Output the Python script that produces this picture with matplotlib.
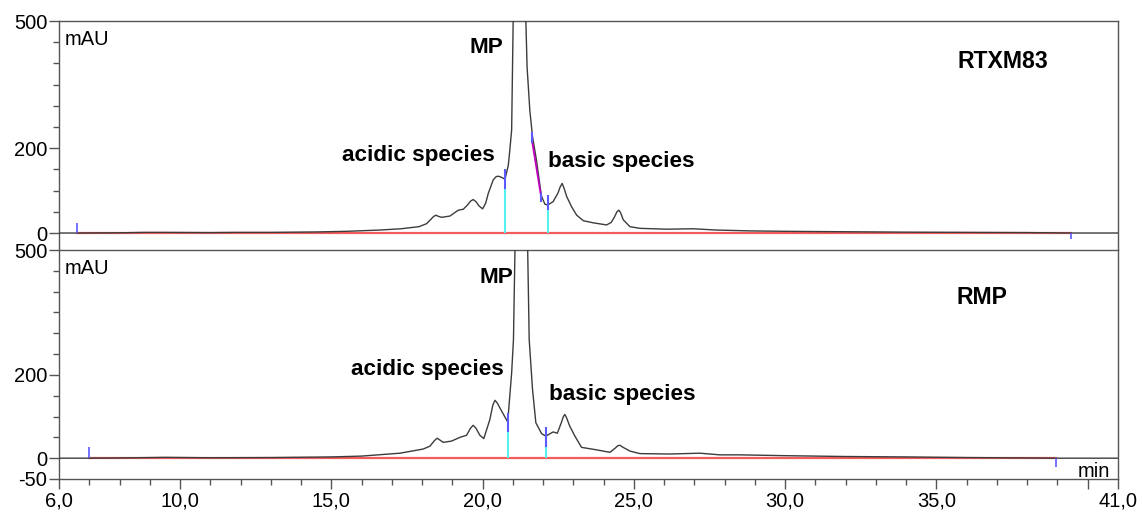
import matplotlib.pyplot as plt
import numpy as np

plt.rcParams['font.family'] = ['Liberation Sans', 'DejaVu Sans']
plt.rcParams['axes.unicode_minus'] = False

# retention time (min) and absorbance (mAU)
t_top = [6.0, 6.6, 8.0, 8.8, 9.5, 11.0, 11.8, 13.0, 14.5, 15.5, 16.6, 17.3, 17.9,
         18.15, 18.3, 18.38, 18.46, 18.55, 18.65, 18.92, 19.2, 19.36, 19.5, 19.6,
         19.69, 19.78, 19.88, 20.0, 20.1, 20.19, 20.35, 20.43, 20.5, 20.57, 20.63,
         20.74, 20.85, 20.9, 20.96, 21.01, 21.06, 21.12, 21.2, 21.28, 21.36, 21.43,
         21.47, 21.56, 21.65, 21.78, 21.9, 21.95, 22.06, 22.15, 22.33, 22.49, 22.56,
         22.63, 22.7, 22.78, 22.94, 23.11, 23.33, 23.66, 24.1, 24.25, 24.36, 24.44,
         24.5, 24.56, 24.65, 24.87, 25.2, 26.08, 26.96, 27.73, 28.84, 30.0, 32.0,
         34.0, 36.0, 38.0, 39.45, 41.0]
a_top = [0, 0, 0.5, 1.5, 1.5, 1, 1.5, 1.5, 2.5, 4, 7, 10, 15,
         22, 33, 39, 42, 39, 37, 40, 54, 56, 66, 75,
         79, 74, 64, 57, 70, 94, 125, 132, 134, 133, 131,
         127, 160, 196, 243, 500, 850, 1250, 1400, 1300, 900, 500,
         392, 290, 227, 172, 109, 86, 68, 66, 74, 94, 108,
         117, 104, 86, 62, 42, 29, 24, 19, 25, 38, 50,
         54, 48, 31, 15, 11, 9, 10, 7, 5, 4, 3,
         2, 1.5, 1, 0, 0]

t_bot = [6.0, 7.0, 8.0, 9.5, 11.0, 13.0, 15.0, 16.0, 17.27, 18.04, 18.26, 18.42,
         18.5, 18.58, 18.7, 18.97, 19.25, 19.47, 19.6, 19.69, 19.78, 19.91, 20.04,
         20.24, 20.34, 20.41, 20.48, 20.63, 20.83, 20.96, 21.02, 21.07, 21.14, 21.22,
         21.3, 21.38, 21.44, 21.49, 21.54, 21.65, 21.76, 21.95, 22.09, 22.33, 22.47,
         22.6, 22.67, 22.72, 22.78, 22.88, 23.05, 23.27, 23.77, 24.21, 24.38, 24.47,
         24.54, 24.62, 24.87, 25.2, 26.19, 27.18, 27.84, 28.5, 30.0, 32.0, 34.0,
         36.0, 38.0, 38.95, 41.0]
a_bot = [0, 0, 0.5, 2, 1, 1.5, 3, 5, 12, 22, 29, 43,
         48, 44, 38, 41, 50, 55, 72, 79, 72, 55, 47,
         93, 128, 139, 133, 113, 87, 205, 285, 500, 900, 1300,
         1350, 1000, 700, 500, 285, 165, 85, 59, 53, 63, 60,
         85, 100, 105, 96, 77, 53, 26, 20, 14, 24, 30,
         31, 27, 17, 11, 10, 12, 8, 8, 6, 4, 3,
         1.5, 0.5, 0, 0]

# integration events: baseline start/end and peak-split drop lines
top_base = [6.6, 39.45]
bot_base = [7.0, 38.95]
top_split = [20.74, 22.15]
top_split_lo = [103, 55]
top_split_hi = [151, 90]
bot_split = [20.83, 22.09]
bot_split_lo = [62, 27]
bot_split_hi = [109, 74]
top_tangent_t = [21.64, 21.92]
top_tangent_a = [215, 92]

x_major = [6, 10, 15, 20, 25, 30, 35, 40, 41]
x_labels = ['6,0', '10,0', '15,0', '20,0', '25,0', '30,0', '35,0', '', '41,0']

fig = plt.figure(figsize=(11.42, 5.12), dpi=100)
left, width = 59 / 1142, (1118 - 59) / 1142
ax1 = fig.add_axes([left, 1 - 249 / 512, width, 228 / 512])
ax2 = fig.add_axes([left, 1 - 479 / 512, width, 229 / 512])

spine_c = '#555555'
trace_c = '#3c3c3c'
base_c = '#f25c5c'
cyan = '#55f0f0'
blue = '#5a5aff'
fs = 14.5
bfs = 16.2

for ax, ymin in [(ax1, -37.7), (ax2, -50)]:
    ax.set_xlim(6, 41)
    ax.set_ylim(ymin, 500)
    for s in ax.spines.values():
        s.set_color(spine_c)
        s.set_linewidth(1.0)
    ax.tick_params(axis='both', which='both', colors=spine_c, labelcolor='black',
                   labelsize=fs, direction='out', width=1.0)
    ax.tick_params(axis='y', which='major', length=7, pad=1.5)
    ax.tick_params(axis='y', which='minor', length=4)
    ax.set_yticks(np.arange(-50 if ymin == -50 else 0, 501, 50), minor=True)

ax1.spines['bottom'].set_visible(False)
ax1.set_yticks([0, 200, 500])
ax1.set_xticks([])
ax1.set_xticks([], minor=True)

ax2.set_yticks([-50, 0, 200, 500])
ax2.set_xticks(x_major)
ax2.set_xticklabels(x_labels)
ax2.set_xticks(np.arange(6, 42, 1), minor=True)
ax2.tick_params(axis='x', which='major', length=7.5, pad=1.5)
ax2.tick_params(axis='x', which='minor', length=4)

# baselines
ax1.plot(top_base, [0, 0], color=base_c, lw=1.6, zorder=2)
ax2.plot(bot_base, [0, 0], color=base_c, lw=1.6, zorder=2)

# traces
ax1.plot(t_top, a_top, color=trace_c, lw=1.0, zorder=3)
ax2.plot(t_bot, a_bot, color=trace_c, lw=1.0, zorder=3)

# start / end event marks
ax1.vlines(top_base[0], 0, 24, color=blue, lw=1.2, zorder=4)
ax1.vlines(top_base[1], -14, 0, color=blue, lw=1.2, zorder=4)
ax2.vlines(bot_base[0], 0, 26, color=blue, lw=1.2, zorder=4)
ax2.vlines(bot_base[1], -22, 0, color=blue, lw=1.2, zorder=4)

# drop lines
ax1.vlines(top_split, 0, top_split_lo, color=cyan, lw=1.5, zorder=4)
ax1.vlines(top_split, top_split_lo, top_split_hi, color=blue, lw=1.5, zorder=4)
ax2.vlines(bot_split, 0, bot_split_lo, color=cyan, lw=1.5, zorder=4)
ax2.vlines(bot_split, bot_split_lo, bot_split_hi, color=blue, lw=1.5, zorder=4)

# tangent skim on the MP tail
ax1.plot(top_tangent_t, top_tangent_a, color='#c000c0', lw=1.3, zorder=4)
ax1.plot([top_tangent_t[0]] * 2, [top_tangent_a[0], top_tangent_a[0] + 22],
         color=blue, lw=1.5, zorder=4)
ax1.plot([top_tangent_t[1]] * 2, [top_tangent_a[1], top_tangent_a[1] - 16],
         color=blue, lw=1.5, zorder=4)

# annotations
ax1.text(6.2, 443, 'mAU', fontsize=fs, va='baseline', ha='left')
ax2.text(6.2, 442, 'mAU', fontsize=fs, va='baseline', ha='left')
ax2.text(40.75, -44, 'min', fontsize=fs, va='baseline', ha='right')

ax1.text(20.13, 424, 'MP', fontsize=bfs, fontweight='bold', ha='center', va='baseline')
ax1.text(17.87, 170, 'acidic species', fontsize=bfs, fontweight='bold', ha='center', va='baseline')
ax1.text(24.57, 156, 'basic species', fontsize=bfs, fontweight='bold', ha='center', va='baseline')
ax1.text(37.2, 388, 'RTXM83', fontsize=16.6, fontweight='bold', ha='center', va='baseline')

ax2.text(20.44, 421, 'MP', fontsize=bfs, fontweight='bold', ha='center', va='baseline')
ax2.text(18.18, 200, 'acidic species', fontsize=bfs, fontweight='bold', ha='center', va='baseline')
ax2.text(24.62, 140, 'basic species', fontsize=bfs, fontweight='bold', ha='center', va='baseline')
ax2.text(36.5, 370, 'RMP', fontsize=16.6, fontweight='bold', ha='center', va='baseline')

fig.savefig('out.png', dpi=100)
